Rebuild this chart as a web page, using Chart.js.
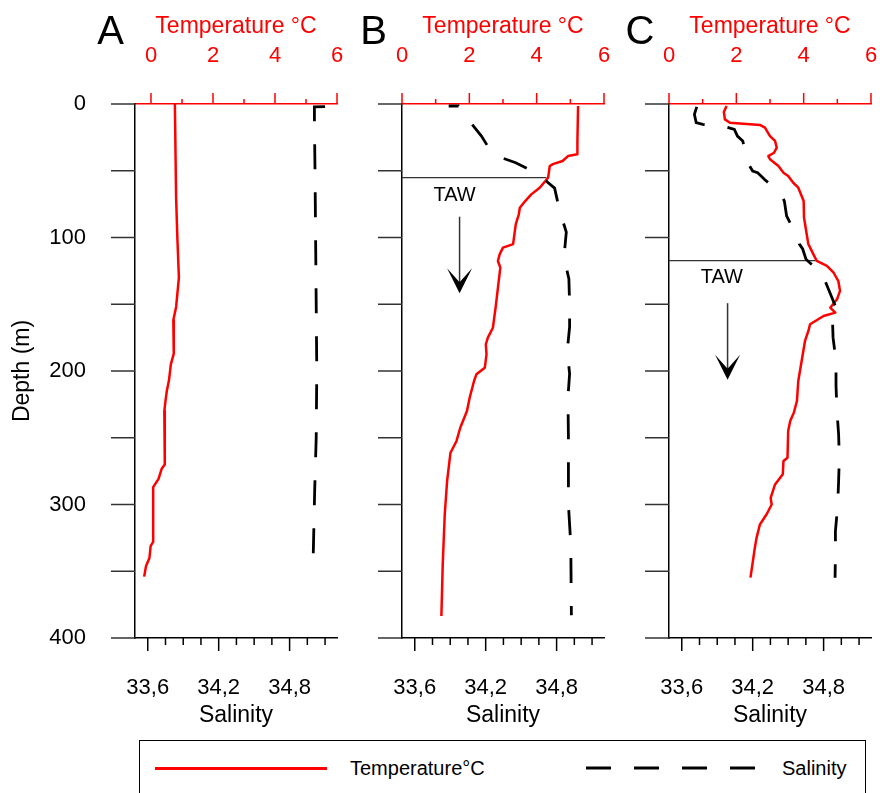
<!DOCTYPE html>
<html>
<head>
<meta charset="utf-8">
<title>Temperature and salinity profiles A, B, C</title>
<script src="https://cdn.jsdelivr.net/npm/chart.js@4.4.1/dist/chart.umd.min.js"></script>
<style>
  body { margin: 0; background: #fff; }
  #wrap { position: relative; width: 880px; height: 793px; overflow: hidden; font-family: "Liberation Sans", Arial, sans-serif; }
  #wrap canvas { position: absolute; top: 0; }
  #legend { position: absolute; left: 139px; top: 740px; width: 727px; height: 70px; box-sizing: border-box; border: 1.5px solid #000; }
  #legend .txt { position: absolute; top: 17px; font-size: 20px; line-height: 20px; color: #000; white-space: nowrap; }
  #legend .red { position: absolute; left: 15px; top: 26px; width: 172px; height: 3px; background: #ff0000; }
  #legend svg { position: absolute; left: 446px; top: 22px; }
</style>
</head>
<body>
<div id="wrap">
  <canvas id="panelA" width="345" height="740" style="left:0px"></canvas>
  <canvas id="panelB" width="265" height="740" style="left:345px"></canvas>
  <canvas id="panelC" width="270" height="740" style="left:610px"></canvas>
  <div id="legend">
    <div class="red"></div>
    <div class="txt" style="left:210px">Temperature°C</div>
    <svg width="180" height="10"><line x1="0" y1="5" x2="175" y2="5" stroke="#000" stroke-width="3" stroke-dasharray="25 23"/></svg>
    <div class="txt" style="left:642px">Salinity</div>
  </div>
</div>
<script>
// axis ticks
var depthTicks = [0, 50, 100, 150, 200, 250, 300, 350, 400];
var tempTicks = [0, 1, 2, 3, 4, 5, 6];
var salTicks = [33.6, 33.75, 33.9, 34.05, 34.2, 34.35, 34.5, 34.65, 34.8, 34.95, 35.1];
var salLabelled = [33.6, 34.2, 34.8];

// panel A
var depthA_T = [0, 70, 100, 130, 152, 162, 175, 187, 195, 207, 215, 222, 230, 250, 270, 273, 281, 287, 300, 328, 331, 340, 346, 354];
var tempA = [0.77, 0.81, 0.85, 0.90, 0.81, 0.72, 0.73, 0.74, 0.64, 0.58, 0.51, 0.47, 0.43, 0.44, 0.45, 0.35, 0.24, 0.07, 0.07, 0.07, -0.01, -0.05, -0.16, -0.22];
var depthA_S = [2.0, 2.2, 14, 50, 100, 150, 200, 250, 290, 338];
var salA = [35.10, 35.01, 35.01, 35.015, 35.02, 35.025, 35.03, 35.025, 35.012, 35.0];

// panel B
var depthB_T = [1.5, 27.7, 37.7, 39, 42.7, 45, 46.4, 55.2, 62.7, 67.7, 72.7, 77.7, 82.6, 90, 105, 107.6, 112.6, 117.6, 122.6, 137.6, 152.6, 167.6, 175, 180, 187.5, 197.5, 202.5, 207.5, 220, 230, 242.5, 252.4, 261.2, 282.4, 307.3, 344.8, 383.5];
var tempB = [5.23, 5.21, 5.21, 4.93, 4.77, 4.48, 4.39, 4.34, 4.09, 3.84, 3.66, 3.50, 3.47, 3.38, 3.30, 3.00, 2.90, 2.85, 2.92, 2.85, 2.78, 2.70, 2.55, 2.49, 2.51, 2.46, 2.21, 2.14, 2.01, 1.93, 1.73, 1.62, 1.44, 1.34, 1.27, 1.21, 1.17];
var depthB_S = [1.5, 1.5, 10, 24, 38, 44, 52, 63, 80, 96, 115, 131, 150, 167, 185, 202, 220, 250, 300, 330, 383];
var salB = [33.887, 33.97, 34.037, 34.164, 34.262, 34.454, 34.634, 34.783, 34.826, 34.882, 34.862, 34.904, 34.91, 34.91, 34.89, 34.91, 34.896, 34.90, 34.90, 34.92, 34.925];

// panel C
var depthC_T = [1.5, 6, 11.5, 14, 15.7, 17.7, 24, 27.7, 32.7, 36.5, 39, 41.4, 46.4, 51.5, 54, 59, 62.7, 72.7, 85, 97.6, 105, 112.6, 117.6, 121.3, 126.4, 132.6, 140, 146.3, 152.6, 156.3, 158.8, 165, 170, 177.5, 192.5, 207.5, 222.5, 231, 237.5, 245, 265, 267.4, 277.4, 285, 295, 300, 307.3, 315, 325, 332.4, 354.8];
var tempC = [1.71, 1.63, 1.66, 1.81, 2.70, 2.85, 3.00, 3.15, 3.20, 3.12, 2.95, 3.00, 3.25, 3.40, 3.54, 3.69, 3.84, 4.00, 4.01, 4.09, 4.14, 4.29, 4.39, 4.69, 4.89, 5.03, 5.08, 4.99, 4.79, 4.94, 4.59, 4.19, 4.14, 4.04, 3.94, 3.84, 3.80, 3.71, 3.60, 3.54, 3.52, 3.40, 3.38, 3.15, 3.02, 3.05, 2.90, 2.70, 2.60, 2.55, 2.42];
var depthC_S = [2.2, 7.7, 14, 15.2, 17.2, 19, 24, 27.7, 45.2, 50.2, 51.5, 56.4, 67.2, 72.7, 83.9, 100.1, 104.9, 108.6, 116.3, 127.6, 145, 158.8, 163.8, 175, 192.5, 211.2, 230, 247.4, 265, 282.4, 301, 320, 337.3, 354.8];
var salC = [33.727, 33.707, 33.722, 33.777, 33.975, 34.045, 34.071, 34.116, 34.166, 34.20, 34.242, 34.299, 34.44, 34.468, 34.487, 34.58, 34.595, 34.623, 34.651, 34.79, 34.87, 34.933, 34.876, 34.88, 34.905, 34.905, 34.913, 34.927, 34.933, 34.927, 34.919, 34.90, 34.90, 34.897];

// TAW boundary (depth m, temperature where the line stops)
var tawB = { depth: 55.2, toTemp: 4.29 };
var tawC = { depth: 117.3, toTemp: 4.36 };

var RED = '#ff0000';
Chart.defaults.font.family = '"Liberation Sans", Arial, sans-serif';

function pts(xs, ys) {
  return xs.map(function(v, i) { return { x: v, y: ys[i] }; });
}

function drawMarks(ctx, s, color, lenFor) {
  ctx.strokeStyle = color;
  ctx.lineWidth = 1.5;
  s.ticks.forEach(function(t) {
    var p = s.getPixelForValue(t.value);
    var len = lenFor(t.value);
    ctx.beginPath();
    if (s.position === 'top') { ctx.moveTo(p, s.bottom); ctx.lineTo(p, s.bottom - len); }
    else if (s.position === 'bottom') { ctx.moveTo(p, s.top); ctx.lineTo(p, s.top + len); }
    else { ctx.moveTo(s.right, p); ctx.lineTo(s.right - len, p); }
    ctx.stroke();
  });
}

function makeDecor(p) {
  return {
    id: 'decor' + p.letter,
    afterDraw: function(chart) {
      var ctx = chart.ctx, sc = chart.scales;
      ctx.save();
      drawMarks(ctx, sc.temp, RED, function(v) { return v % 2 === 0 ? 11 : 5; });
      drawMarks(ctx, sc.sal, '#000', function(v) { return salLabelled.indexOf(v) >= 0 ? 13 : 7; });
      drawMarks(ctx, sc.depth, '#333', function() { return 24; });

      ctx.fillStyle = '#000';
      ctx.font = '40px "Liberation Sans", Arial, sans-serif';
      ctx.textAlign = 'center';
      ctx.textBaseline = 'alphabetic';
      ctx.fillText(p.letter, p.letterX, 44);

      if (p.note) {
        var n = p.note;
        ctx.font = '20px "Liberation Sans", Arial, sans-serif';
        ctx.fillText('TAW', sc.temp.getPixelForValue(n.textT), sc.depth.getPixelForValue(n.textD));
        var x = sc.temp.getPixelForValue(n.arrowT);
        var y0 = sc.depth.getPixelForValue(n.arrowTop);
        var y1 = sc.depth.getPixelForValue(n.arrowTip);
        ctx.strokeStyle = '#333';
        ctx.lineWidth = 1.5;
        ctx.beginPath(); ctx.moveTo(x, y0); ctx.lineTo(x, y1 - 10); ctx.stroke();
        ctx.beginPath();
        ctx.moveTo(x, y1);
        ctx.lineTo(x - 12.5, y1 - 25);
        ctx.lineTo(x, y1 - 11);
        ctx.lineTo(x + 12.5, y1 - 25);
        ctx.closePath();
        ctx.fill();
      }
      ctx.restore();
    }
  };
}

function makePanel(id, p) {
  var datasets = [
    { data: pts(p.sal, p.salDepth), xAxisID: 'sal', yAxisID: 'depth', borderColor: '#000', borderWidth: 2.8,
      borderDash: [25, 23], borderDashOffset: p.dashOffset || 0, pointRadius: 0, fill: false, tension: 0 },
    { data: pts(p.temp, p.tempDepth), xAxisID: 'temp', yAxisID: 'depth', borderColor: RED, borderWidth: 2.5,
      pointRadius: 0, fill: false, tension: 0, borderJoinStyle: 'round' }
  ];
  if (p.taw) {
    datasets.push({ data: [{ x: 0, y: p.taw.depth }, { x: p.taw.toTemp, y: p.taw.depth }], xAxisID: 'temp', yAxisID: 'depth',
      borderColor: '#333', borderWidth: 1.3, pointRadius: 0, fill: false });
  }
  return new Chart(document.getElementById(id), {
    type: 'line',
    data: { datasets: datasets },
    plugins: [makeDecor(p)],
    options: {
      responsive: false,
      animation: false,
      devicePixelRatio: 1,
      layout: { padding: { left: 0, right: p.padRight, top: 0, bottom: 0 } },
      plugins: { legend: { display: false }, tooltip: { enabled: false } },
      scales: {
        temp: {
          type: 'linear', position: 'top', min: p.tempMin, max: 6, bounds: 'data',
          afterBuildTicks: function(s) { s.ticks = tempTicks.map(function(v) { return { value: v }; }); },
          afterFit: function(s) { s.height = 104; s.paddingLeft = 0; s.paddingRight = 0; },
          grid: { display: false, drawTicks: false },
          border: { display: true, color: RED, width: 1.5 },
          ticks: { color: RED, font: { size: 22 }, padding: 35, autoSkip: false, maxRotation: 0,
            callback: function(v) { return v % 2 === 0 ? String(v) : ''; } },
          title: { display: true, text: 'Temperature °C', color: RED, font: { size: 23 }, padding: { top: 13, bottom: 0 } }
        },
        sal: {
          type: 'linear', position: 'bottom', min: 33.492, max: 35.201, bounds: 'data',
          afterBuildTicks: function(s) { s.ticks = salTicks.map(function(v) { return { value: v }; }); },
          afterFit: function(s) { s.height = 102; s.paddingLeft = 0; s.paddingRight = 0; },
          grid: { display: false, drawTicks: false },
          border: { display: true, color: '#000', width: 1.5 },
          ticks: { color: '#000', font: { size: 22 }, padding: 37, autoSkip: false, maxRotation: 0,
            callback: function(v) { return salLabelled.indexOf(v) >= 0 ? v.toFixed(1).replace('.', ',') : ''; } },
          title: { display: true, text: 'Salinity', color: '#000', font: { size: 23 }, padding: { top: 0, bottom: 11 } }
        },
        depth: {
          type: 'linear', position: 'left', reverse: true, min: 0, max: 400, bounds: 'data',
          afterBuildTicks: function(s) { s.ticks = depthTicks.map(function(v) { return { value: v }; }); },
          afterFit: function(s) { s.width = p.axisLeft; s.paddingTop = 0; s.paddingBottom = 0; },
          grid: { display: false, drawTicks: false },
          border: { display: true, color: '#000', width: 1.5 },
          ticks: { display: p.showDepth, color: '#000', font: { size: 22 }, padding: 49, autoSkip: false,
            callback: function(v) { return v % 100 === 0 ? String(v) : ''; } },
          title: { display: p.showDepth, text: 'Depth (m)', color: '#000', font: { size: 23 }, padding: { top: 9, bottom: 0 } }
        }
      }
    }
  });
}

makePanel('panelA', {
  letter: 'A', letterX: 110.5, axisLeft: 135, padRight: 8, tempMin: -0.516, showDepth: true,
  temp: tempA, tempDepth: depthA_T, sal: salA, salDepth: depthA_S
});
makePanel('panelB', {
  letter: 'B', letterX: 28.5, axisLeft: 57, padRight: 6, tempMin: 0, showDepth: false, dashOffset: 15,
  temp: tempB, tempDepth: depthB_T, sal: salB, salDepth: depthB_S, taw: tawB,
  note: { textT: 1.56, textD: 72.6, arrowT: 1.71, arrowTop: 84.4, arrowTip: 141.7 }
});
makePanel('panelC', {
  letter: 'C', letterX: 30, axisLeft: 59, padRight: 9, tempMin: 0, showDepth: false,
  temp: tempC, tempDepth: depthC_T, sal: salC, salDepth: depthC_S, taw: tawC,
  note: { textT: 1.57, textD: 133.8, arrowT: 1.74, arrowTop: 149.2, arrowTip: 206.6 }
});
</script>
</body>
</html>
